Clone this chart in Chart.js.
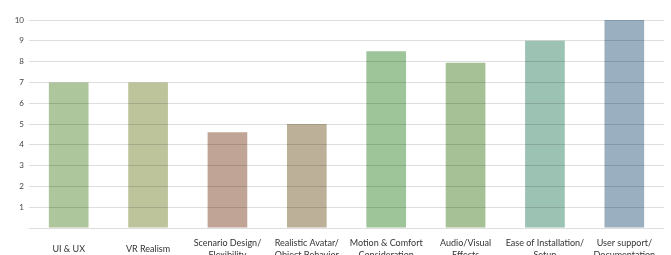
<!DOCTYPE html>
<html lang="en">
  <head>
    <meta charset="UTF-8" />
    <title>Ratings</title>
    <script src="https://cdn.jsdelivr.net/npm/chart.js"></script>
    <style>
      html, body { margin: 0; padding: 0; background: #fff; }
      .block { width: 671px; height: 255px; }
    </style>
  </head>
  <body>
    <div class="block"><canvas id="chart"></canvas></div>
    <script>
      // categories (two-line labels)
      const categories = [
        ['UI & UX'],
        ['VR Realism'],
        ['Scenario Design/', 'Flexibility'],
        ['Realistic Avatar/', 'Object Behavior'],
        ['Motion & Comfort', 'Consideration'],
        ['Audio/Visual', 'Effects'],
        ['Ease of Installation/', 'Setup'],
        ['User support/', 'Documentation'],
      ];
      const scores = [7, 7, 4.6, 5, 8.5, 7.95, 9, 10];
      const barColors = [
        '#adc69b', '#bdc39b', '#c0a597', '#bcb098',
        '#9ec59a', '#a6c196', '#9bc2b2', '#9aafbf',
      ];
      const yTicks = [1, 2, 3, 4, 5, 6, 7, 8, 9, 10];

      const ctx = document.getElementById('chart').getContext('2d');
      const chart = new Chart(ctx, {
        type: 'bar',
        data: {
          labels: categories,
          datasets: [
            {
              data: scores,
              backgroundColor: barColors,
              borderWidth: 0,
              barPercentage: 0.5,
              categoryPercentage: 1,
            },
          ],
        },
        options: {
          responsive: true,
          maintainAspectRatio: false,
          animation: false,
          layout: { padding: { top: 20, right: 7, left: 0, bottom: 0 } },
          plugins: {
            legend: { display: false },
            tooltip: { enabled: false },
          },
          scales: {
            x: {
              grid: { display: false },
              border: { display: false },
              ticks: {
                color: '#333',
                padding: 7,
                maxRotation: 0,
                autoSkip: false,
                crossAlign: 'center',
                font: { family: 'Lato', size: 9, lineHeight: 1.3 },
              },
              afterFit(scale) { scale.height = 27; },
            },
            y: {
              min: 0,
              max: 10,
              afterBuildTicks(scale) {
                scale.ticks = [0].concat(yTicks).map((v) => ({ value: v }));
              },
              grid: {
                color: 'rgba(0,0,0,0.13)',
                drawTicks: false,
                z: 1,
              },
              border: { display: false },
              ticks: {
                color: '#444',
                padding: 5,
                font: { family: 'Lato', size: 8 },
                callback: (v) => (v === 0 ? '' : v),
              },
              afterFit(scale) { scale.width = 29; },
            },
          },
        },
      });
    </script>
  </body>
</html>
